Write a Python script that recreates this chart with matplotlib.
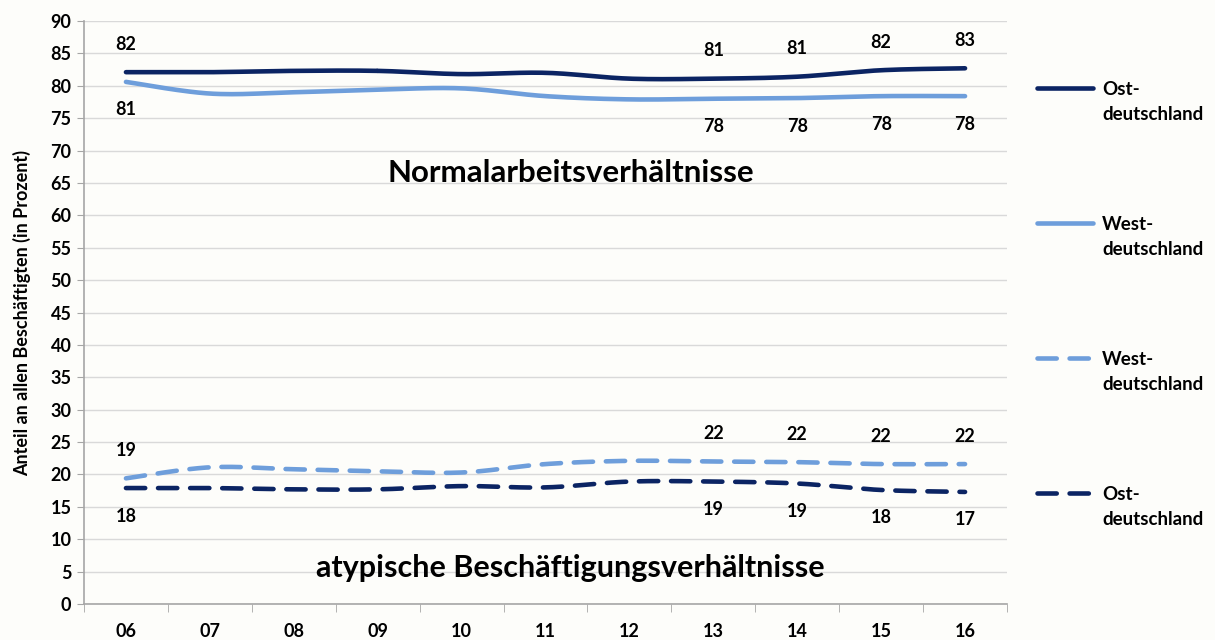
import numpy as np
import matplotlib
matplotlib.use('Agg')
import matplotlib.pyplot as plt
from matplotlib.lines import Line2D

plt.rcParams['font.family'] = ['Lato', 'DejaVu Sans']
plt.rcParams['font.weight'] = 'bold'

years = ['06', '07', '08', '09', '10', '11', '12', '13', '14', '15', '16']

ost_normal = [82.1, 82.1, 82.3, 82.3, 81.8, 82.0, 81.1, 81.1, 81.4, 82.4, 82.7]
west_normal = [80.6, 78.8, 79.0, 79.4, 79.6, 78.4, 77.9, 78.0, 78.1, 78.4, 78.4]
west_atyp = [19.4, 21.1, 20.8, 20.5, 20.3, 21.6, 22.1, 22.0, 21.9, 21.6, 21.6]
ost_atyp = [17.9, 17.9, 17.7, 17.7, 18.2, 18.0, 18.9, 18.9, 18.6, 17.6, 17.3]

# points that carry a value label
labelled = [0, 7, 8, 9, 10]

dark = '#0b2463'
light = '#6e9edb'
bg = '#fdfdfa'


def smooth(xs, ys, n=24):
    # Catmull-Rom like the "smoothed line" of office charts
    xs = np.asarray(xs, float)
    ys = np.asarray(ys, float)
    px = np.concatenate([[xs[0]], xs, [xs[-1]]])
    py = np.concatenate([[ys[0]], ys, [ys[-1]]])
    ox, oy = [], []
    t = np.linspace(0, 1, n)
    for i in range(1, len(px) - 2):
        for p, out in ((px, ox), (py, oy)):
            p0, p1, p2, p3 = p[i - 1], p[i], p[i + 1], p[i + 2]
            out.extend(0.5 * (2 * p1 + (-p0 + p2) * t
                              + (2 * p0 - 5 * p1 + 4 * p2 - p3) * t ** 2
                              + (-p0 + 3 * p1 - 3 * p2 + p3) * t ** 3))
    return np.array(ox), np.array(oy)


fig = plt.figure(figsize=(12.15, 6.4), dpi=100, facecolor=bg)
ax = fig.add_axes([84 / 1215, 36 / 640, 923 / 1215, 583 / 640], facecolor=bg)

x = np.arange(len(years))
series = [
    (ost_normal, dark, '-', 1),
    (west_normal, light, '-', -1),
    (west_atyp, light, '--', 1),
    (ost_atyp, dark, '--', -1),
]
for vals, col, ls, side in series:
    sx, sy = smooth(x, vals)
    ln, = ax.plot(sx, sy, color=col, lw=3.3, ls=ls, solid_capstyle='round',
                  dash_capstyle='round', zorder=3)
    if ls == '--':
        ln.set_dashes((4.2, 2.8))
    for i in labelled:
        ax.annotate(f'{vals[i]:.0f}', (x[i], vals[i]), xytext=(0, 28 * side),
                    textcoords='offset pixels', ha='center', va='center',
                    fontsize=13, fontweight='bold', color='black')

ax.text(5.3, 66.5, 'Normalarbeitsverhältnisse', ha='center', va='center',
        fontsize=22.5, fontweight='bold')
ax.text(5.3, 5.6, 'atypische Beschäftigungsverhältnisse', ha='center', va='center',
        fontsize=22, fontweight='bold')

ax.set_xlim(-0.5, len(years) - 0.5)
ax.set_ylim(0, 90)
ax.set_yticks(range(0, 91, 5))
ax.set_xticks(x)
ax.set_xticklabels(years)
ax.set_xticks(np.arange(-0.5, len(years), 1), minor=True)
ax.tick_params(axis='x', which='major', length=0, pad=14, labelsize=13)
ax.tick_params(axis='x', which='minor', length=6, color='#a6a6a6', direction='out')
ax.tick_params(axis='y', length=5, color='#a6a6a6', labelsize=13, pad=4)
ax.grid(axis='y', color='#d9d9d9', lw=1)
ax.set_axisbelow(True)
for s in ('top', 'right'):
    ax.spines[s].set_visible(False)
for s in ('left', 'bottom'):
    ax.spines[s].set_color('#a6a6a6')
    ax.spines[s].set_linewidth(1.2)
ax.set_ylabel('Anteil an allen Beschäftigten (in Prozent)', fontsize=13,
              fontweight='bold', labelpad=14)

# legend on the right, line level with first text row
legend = [('Ost-\ndeutschland', dark, '-'), ('West-\ndeutschland', light, '-'),
          ('West-\ndeutschland', light, '--'), ('Ost-\ndeutschland', dark, '--')]
for k, (lab, col, ls) in enumerate(legend):
    yy = 1 - (88 + 135 * k) / 640
    ln = Line2D([1037 / 1215, 1093 / 1215], [yy, yy], color=col, lw=3.3, ls=ls,
                solid_capstyle='round', dash_capstyle='round', transform=fig.transFigure)
    if ls == '--':
        ln.set_dashes((4.2, 2.8))
    fig.add_artist(ln)
    fig.text(1102 / 1215, yy + 7 / 640, lab, ha='left', va='top', fontsize=13.5,
             fontweight='bold', linespacing=1.55)

fig.savefig('out.png', dpi=100, facecolor=bg)
